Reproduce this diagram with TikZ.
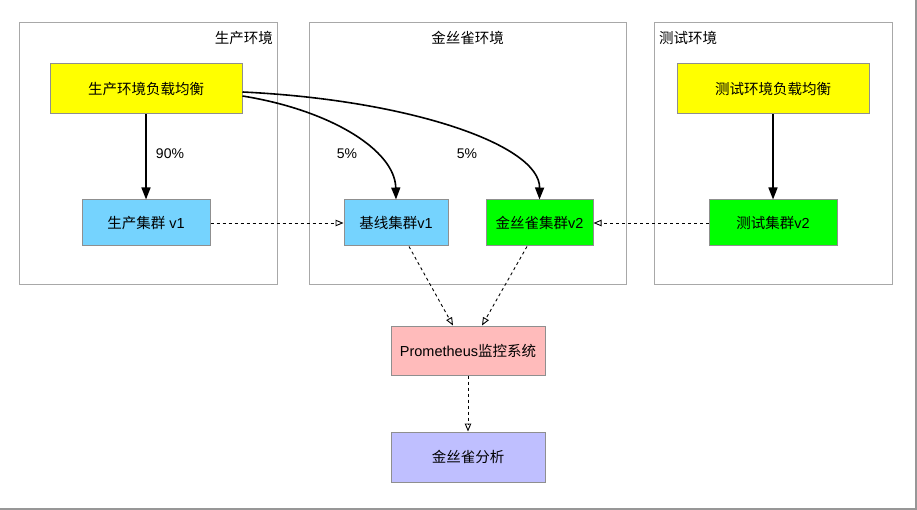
\documentclass[tikz,border=0pt]{standalone}
\usepackage{fontspec}
\setmainfont{Liberation Sans}
\newfontfamily\cjk{Noto Sans CJK SC}
\usetikzlibrary{arrows.meta}
\newcommand{\zh}[1]{{\cjk #1}}
\definecolor{cblue}{HTML}{75D3FE}
\definecolor{cgreen}{HTML}{00FF00}
\definecolor{cyellow}{HTML}{FFFF00}
\definecolor{cpink}{HTML}{FFBBBB}
\definecolor{clav}{HTML}{BFBFFF}
\definecolor{bordergray}{HTML}{8F8F8F}
\definecolor{contgray}{HTML}{A8A8A8}
\tikzset{
  every node/.style={font=\fontsize{14.5}{17}\selectfont, inner sep=0pt},
  box/.style={draw=bordergray, line width=1pt},
  container/.style={draw=contgray, line width=1pt},
  solidarrow/.style={line width=1.6pt, -{Triangle[length=12pt,width=9pt]}},
  dasharrow/.style={line width=0.9pt, dash pattern=on 3pt off 3pt, -{Triangle[open,length=8pt,width=6.5pt,line width=0.9pt]}},
  pct/.style={font=\fontsize{14}{17}\selectfont}
}
\begin{document}
\begin{tikzpicture}[x=1pt,y=-1pt]
\useasboundingbox (0,0) rectangle (917,510);
\fill[white] (0,0) rectangle (917,510);
\draw[contgray!90!black, line width=1.8pt] (916.1,0) -- (916.1,509.1) -- (0,509.1);
% containers
\node[container, minimum width=258pt, minimum height=262pt] (envp) at (148,154) {};
\node[container, minimum width=317pt, minimum height=262pt] (envc) at (467.5,154) {};
\node[container, minimum width=238pt, minimum height=262pt] (envt) at (773,154) {};
\node[anchor=east] (tp) at (273,38) {\zh{生产环境}};
\node (tc) at (467.5,38) {\zh{金丝雀环境}};
\node[anchor=west] (tt) at (659,38) {\zh{测试环境}};
% boxes
\node[box, fill=cyellow, minimum width=192pt, minimum height=50pt] (lbp) at (146,89) {\zh{生产环境负载均衡}};
\node[box, fill=cblue, minimum width=128pt, minimum height=46pt] (p1) at (146,223) {\zh{生产集群} v1};
\node[box, fill=cblue, minimum width=104pt, minimum height=46pt] (b1) at (396,223) {\zh{基线集群}v1};
\node[box, fill=cgreen, minimum width=107pt, minimum height=46pt] (c2) at (539.5,223) {\zh{金丝雀集群}v2};
\node[box, fill=cyellow, minimum width=192pt, minimum height=50pt] (lbt) at (773,89) {\zh{测试环境负载均衡}};
\node[box, fill=cgreen, minimum width=128pt, minimum height=46pt] (t2) at (773,223) {\zh{测试集群}v2};
\node[box, fill=cpink, minimum width=154pt, minimum height=49pt] (prom) at (468,350.5) {Prometheus\zh{监控系统}};
\node[box, fill=clav, minimum width=154pt, minimum height=50pt] (ana) at (468,457) {\zh{金丝雀分析}};
% labels
\node[pct] (l90) at (170,154) {90\%};
\node[pct] (l5a) at (347,154) {5\%};
\node[pct] (l5b) at (467,154) {5\%};
% connectors
\draw[solidarrow] (lbp.south) -- (p1.north);
\draw[solidarrow] (lbt.south) -- (t2.north);
\draw[solidarrow] ([yshift=-7pt]lbp.east) .. controls (330,110) and (395,150) .. (b1.north);
\draw[solidarrow] ([yshift=-3pt]lbp.east) .. controls (410,100) and (540,145) .. (c2.north);
\draw[dasharrow] (p1.east) -- (b1.west);
\draw[dasharrow] (t2.west) -- (c2.east);
\draw[dasharrow] ([xshift=13pt]b1.south) -- ([xshift=-15pt]prom.north);
\draw[dasharrow] ([xshift=-12.5pt]c2.south) -- ([xshift=14pt]prom.north);
\draw[dasharrow] (prom.south) -- (ana.north);
\end{tikzpicture}
\end{document}
